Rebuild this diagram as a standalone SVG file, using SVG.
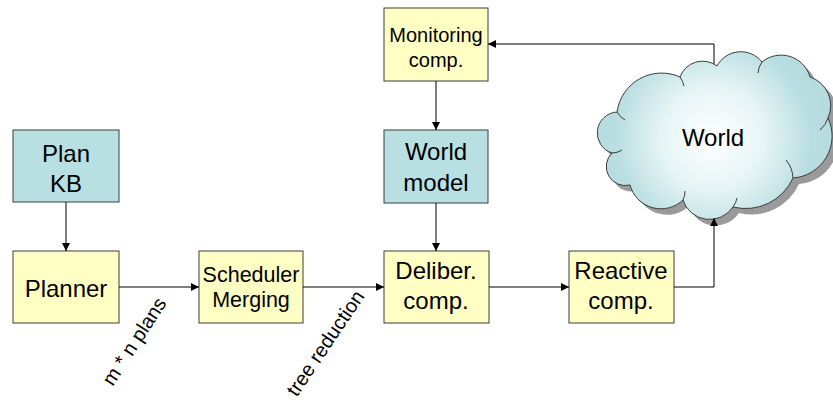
<svg xmlns="http://www.w3.org/2000/svg" width="833" height="400" viewBox="0 0 833 400">
<defs>
<marker id="ah" viewBox="0 0 10 10" refX="10" refY="5" markerWidth="9" markerHeight="8" markerUnits="userSpaceOnUse" orient="auto">
<path d="M0,0 L10,5 L0,10 z" fill="#000"/>
</marker>
<radialGradient id="cg" cx="713" cy="138" r="130" gradientUnits="userSpaceOnUse">
<stop offset="0" stop-color="#ffffff"/>
<stop offset="0.4" stop-color="#e6f4f5"/>
<stop offset="0.75" stop-color="#b9dee1"/>
<stop offset="1" stop-color="#b3dadd"/>
</radialGradient>
<path id="cloud" d="M617,112 A21,21 0 0 0 612,153 A19,19 0 0 0 630,185 A32,32 0 0 0 683,200 A28,28 0 0 0 733,207 A52,52 0 0 0 793,178 A42,42 0 0 0 828,118 A30,30 0 0 0 810,77 A30,30 0 0 0 762,62 A27,27 0 0 0 717,66 A24,24 0 0 0 680,77 A45,45 0 0 0 617,112 Z"/>
</defs>
<style>
.y{fill:#ffffc4;stroke:#3c3c3c;stroke-width:1}
.b{fill:#b8dfe1;stroke:#3c3c3c;stroke-width:1}
text{font-family:"Liberation Sans",Arial,sans-serif;fill:#000;text-anchor:middle}
.c{fill:none;stroke:#000;stroke-width:1;marker-end:url(#ah)}
</style>
<rect width="833" height="400" fill="#fff"/>
<g id="world">
<use href="#cloud" transform="translate(6,6)" fill="#9a9a9a"/>
<use href="#cloud" fill="url(#cg)" stroke="#3c3c3c" stroke-width="1"/>
<g fill="none" stroke="#3c3c3c" stroke-width="1">
<path d="M617,112 A22,22 0 0 0 625,120"/>
<path d="M612,153 A18,18 0 0 0 622,150"/>
<path d="M683,200 A20,20 0 0 0 685,191"/>
<path d="M733,207 A20,20 0 0 0 737,198"/>
<path d="M793,178 A30,30 0 0 0 786,160"/>
<path d="M828,118 A25,25 0 0 1 820,130"/>
<path d="M762,62 A20,20 0 0 0 758,73"/>
<path d="M680,77 A24,24 0 0 1 684,86"/>
</g>
<text x="713" y="146" font-size="24">World</text>
</g>
<g id="plankb">
<rect class="b" x="13" y="130" width="106" height="72"/>
<text x="66" y="162" font-size="24">Plan</text>
<text x="66" y="192" font-size="24">KB</text>
</g>
<g id="planner">
<rect class="y" x="13" y="251" width="106" height="72"/>
<text x="66" y="297" font-size="24">Planner</text>
</g>
<g id="scheduler">
<rect class="y" x="199" y="251" width="104" height="72"/>
<text x="251" y="282" font-size="21.5">Scheduler</text>
<text x="251" y="307" font-size="21.5">Merging</text>
</g>
<g id="deliber">
<rect class="y" x="384" y="251" width="105" height="72"/>
<text x="436" y="279" font-size="24">Deliber.</text>
<text x="436" y="309" font-size="24">comp.</text>
</g>
<g id="reactive">
<rect class="y" x="569" y="251" width="105" height="72"/>
<text x="621" y="279" font-size="24">Reactive</text>
<text x="621" y="309" font-size="24">comp.</text>
</g>
<g id="monitoring">
<rect class="y" x="384" y="8" width="104" height="73"/>
<text x="436" y="42" font-size="20">Monitoring</text>
<text x="436" y="67" font-size="20">comp.</text>
</g>
<g id="worldmodel">
<rect class="b" x="384" y="130" width="104" height="73"/>
<text x="436" y="160" font-size="24">World</text>
<text x="436" y="191" font-size="24">model</text>
</g>
<g id="connectors">
<path class="c" d="M66,202 V251"/>
<path class="c" d="M119,287 H199"/>
<path class="c" d="M303,287 H384" stroke-width="1.6"/>
<path class="c" d="M436,81 V130"/>
<path class="c" d="M436,203 V251"/>
<path class="c" d="M489,287 H569"/>
<path class="c" d="M674,287 H714 V218"/>
<path class="c" d="M714,64 V44 H488"/>
<text x="140" y="345" font-size="20" transform="rotate(-57 140 345)">m * n plans</text>
<text x="331" y="347" font-size="20" transform="rotate(-56 331 347)">tree reduction</text>
</g>
</svg>
